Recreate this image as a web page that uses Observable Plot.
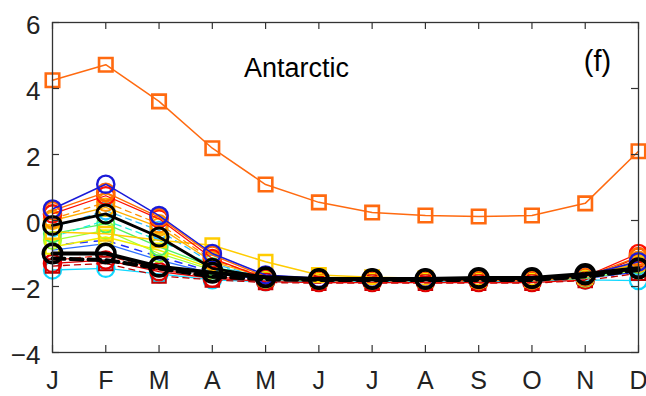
<!DOCTYPE html>
<html>
<head>
<meta charset="utf-8">
<script src="https://cdn.jsdelivr.net/npm/d3@7"></script>
<script src="https://cdn.jsdelivr.net/npm/@observablehq/plot@0.6"></script>
<style>
  html, body { margin: 0; padding: 0; background: #fff; }
  #chart { width: 646px; height: 396px; }
</style>
</head>
<body>
<div id="chart"></div>
<script>
// ---- data ----
const months = ["J", "F", "M", "A", "M", "J", "J", "A", "S", "O", "N", "D"];
const yTicks = [-4, -2, 0, 2, 4, 6];
const regionLabel = "Antarctic";
const panelLabel = "(f)";

// model series (monthly values, J..D)
const mBlue      = [0.35, 1.10, 0.15, -1.00, -1.65, -1.75, -1.75, -1.75, -1.75, -1.75, -1.65, -1.25];
const mOrange    = [0.30, 0.85, 0.10, -1.05, -1.70, -1.80, -1.80, -1.80, -1.80, -1.80, -1.70, -1.10];
const mRed       = [0.20, 0.75, 0.05, -1.15, -1.75, -1.80, -1.80, -1.80, -1.80, -1.80, -1.70, -1.00];
const mAmber     = [0.05, 0.55, -0.10, -1.20, -1.70, -1.80, -1.80, -1.80, -1.80, -1.80, -1.70, -1.20];
const mGold      = [0.00, 0.40, -0.20, -1.25, -1.72, -1.80, -1.80, -1.80, -1.80, -1.80, -1.70, -1.30];
const mSky       = [-0.20, 0.30, -0.30, -1.30, -1.75, -1.80, -1.80, -1.80, -1.80, -1.80, -1.72, -1.40];
const mAqua      = [-0.50, 0.00, -0.60, -1.35, -1.75, -1.80, -1.80, -1.80, -1.80, -1.80, -1.72, -1.45];
const mYellowSq  = [-0.35, -0.40, -0.60, -0.75, -1.25, -1.65, -1.72, -1.75, -1.75, -1.75, -1.68, -1.30];
const mGreen     = [-0.40, -0.10, -0.80, -1.40, -1.75, -1.80, -1.80, -1.80, -1.80, -1.80, -1.72, -1.35];
const mLime      = [-0.60, -0.30, -1.00, -1.50, -1.78, -1.82, -1.82, -1.82, -1.82, -1.82, -1.75, -1.50];
const mBlueDash  = [-0.75, -0.60, -1.10, -1.55, -1.78, -1.82, -1.82, -1.82, -1.82, -1.82, -1.75, -1.55];
const mYellow    = [-0.80, -0.50, -0.90, -1.45, -1.76, -1.80, -1.80, -1.80, -1.80, -1.80, -1.72, -1.40];
const mAzure     = [-0.90, -0.70, -1.20, -1.60, -1.80, -1.82, -1.82, -1.82, -1.82, -1.82, -1.75, -1.55];
const mRedDash   = [-1.20, -1.05, -1.50, -1.70, -1.82, -1.85, -1.85, -1.85, -1.85, -1.85, -1.78, -1.20];
const mRed2      = [-1.30, -1.20, -1.55, -1.75, -1.85, -1.88, -1.88, -1.88, -1.88, -1.88, -1.80, -1.10];
const mDarkRedSq = [-1.38, -1.30, -1.68, -1.80, -1.88, -1.90, -1.90, -1.90, -1.90, -1.90, -1.82, -1.60];
const mCyan      = [-1.50, -1.45, -1.62, -1.80, -1.85, -1.85, -1.85, -1.85, -1.85, -1.85, -1.80, -1.82];
// ensemble / reference series
const blackUpper = [-0.15, 0.20, -0.50, -1.45, -1.72, -1.77, -1.77, -1.77, -1.76, -1.76, -1.65, -1.45];
const blackLower = [-1.00, -1.00, -1.40, -1.58, -1.72, -1.77, -1.77, -1.77, -1.74, -1.74, -1.62, -1.45];
const blackDash  = [-1.15, -1.20, -1.45, -1.70, -1.78, -1.80, -1.80, -1.80, -1.80, -1.80, -1.70, -1.50];
const obsSquares = [4.25, 4.72, 3.61, 2.19, 1.09, 0.55, 0.24, 0.15, 0.12, 0.15, 0.52, 2.10];

// ---- styles (separate from data) ----
const series = [
  {v: mCyan,      color: "#10d8ff", w: 1.3, dash: null,  sym: "circle", sw: 2.2},
  {v: mDarkRedSq, color: "#c00000", w: 1.3, dash: "6,5", sym: "square", sw: 2.0},
  {v: mRed2,      color: "#e00000", w: 1.3, dash: null,  sym: "circle", sw: 2.4},
  {v: mRedDash,   color: "#ff3020", w: 1.3, dash: "6,5", sym: null},
  {v: mAzure,     color: "#3070ff", w: 1.3, dash: null,  sym: null},
  {v: mBlueDash,  color: "#2030ff", w: 1.5, dash: "7,7", sym: null},
  {v: mLime,      color: "#a0ff30", w: 1.3, dash: null,  sym: "circle", sw: 2.0},
  {v: mYellow,    color: "#f0f000", w: 1.5, dash: null,  sym: "square", sw: 2.0},
  {v: mGreen,     color: "#50f060", w: 1.3, dash: null,  sym: "circle", sw: 2.0},
  {v: mAqua,      color: "#20f0e0", w: 1.3, dash: "6,5", sym: null},
  {v: mSky,       color: "#30c0ff", w: 1.3, dash: "6,5", sym: "circle", sw: 2.0},
  {v: mYellowSq,  color: "#ffcc00", w: 1.5, dash: null,  sym: "square", sw: 2.4},
  {v: mGold,      color: "#ffb000", w: 1.3, dash: null,  sym: "circle", sw: 2.2},
  {v: mAmber,     color: "#ff9000", w: 1.3, dash: "6,5", sym: "circle", sw: 2.2},
  {v: mRed,       color: "#ff1000", w: 1.3, dash: null,  sym: "circle", sw: 2.4},
  {v: mOrange,    color: "#ff6a00", w: 1.3, dash: null,  sym: "circle", sw: 2.6},
  {v: mBlue,      color: "#1a1ad8", w: 1.5, dash: null,  sym: "circle", sw: 2.4},
  {v: blackDash,  color: "#000000", w: 4.0, dash: "12,6", sym: null},
  {v: blackLower, color: "#000000", w: 4.0, dash: null,  sym: "circle", sw: 3.6, r: 9.2},
  {v: blackUpper, color: "#000000", w: 2.8, dash: null,  sym: "circle", sw: 3.0, r: 9.0},
  {v: obsSquares, color: "#ff6a10", w: 1.5, dash: null,  sym: "square", sw: 2.6}
];

const font = "'Liberation Sans', Arial, Helvetica, sans-serif";
const monthIdx = d3.range(1, 13);
const ticksUnitsX = 7 / 53.3;   // ~7px inward ticks in x units
const ticksUnitsY = 7 / 33;     // ~7px inward ticks in y units

const marks = [];
for (const s of series) {
  const rows = s.v.map((value, i) => ({month: i + 1, value}));
  marks.push(Plot.line(rows, {
    x: "month", y: "value", stroke: s.color, strokeWidth: s.w,
    strokeDasharray: s.dash || undefined, strokeLinejoin: "round"
  }));
  if (s.sym) {
    marks.push(Plot.dot(rows, {
      x: "month", y: "value", symbol: s.sym,
      r: s.r || (s.sym === "square" ? 7.6 : 8.6),
      stroke: s.color, strokeWidth: s.sw, fill: "none"
    }));
  }
}

const chart = Plot.plot({
  width: 646,
  height: 396,
  marginLeft: 52,
  marginRight: 8,
  marginTop: 22,
  marginBottom: 44,
  style: {fontFamily: font, fontSize: "26px", color: "#222", background: "#fff", overflow: "visible"},
  x: {domain: [1, 12]},
  y: {domain: [-4, 6]},
  marks: [
    ...marks,
    // inward ticks (bottom/top/left/right)
    Plot.ruleX(monthIdx, {x: d => d, y1: -4, y2: -4 + ticksUnitsY, stroke: "#333", strokeWidth: 1.2}),
    Plot.ruleX(monthIdx, {x: d => d, y1: 6, y2: 6 - ticksUnitsY, stroke: "#333", strokeWidth: 1.2}),
    Plot.ruleY(yTicks, {y: d => d, x1: 1, x2: 1 + ticksUnitsX, stroke: "#333", strokeWidth: 1.2}),
    Plot.ruleY(yTicks, {y: d => d, x1: 12, x2: 12 - ticksUnitsX, stroke: "#333", strokeWidth: 1.2}),
    Plot.frame({stroke: "#333", strokeWidth: 1.3}),
    Plot.axisX(monthIdx, {tickSize: 0, tickPadding: 19, tickFormat: d => months[d - 1], fontSize: 25, label: null}),
    Plot.axisY(yTicks, {tickSize: 0, tickPadding: 12, fontSize: 26, dy: 3, label: null}),
    Plot.text([regionLabel], {x: 5.58, y: 4.6, text: d => d, fontSize: 27, fill: "#000"}),
    Plot.text([panelLabel], {x: 11.23, y: 4.8, text: d => d, fontSize: 29, fill: "#000"})
  ]
});
document.getElementById("chart").appendChild(chart);
</script>
</body>
</html>
